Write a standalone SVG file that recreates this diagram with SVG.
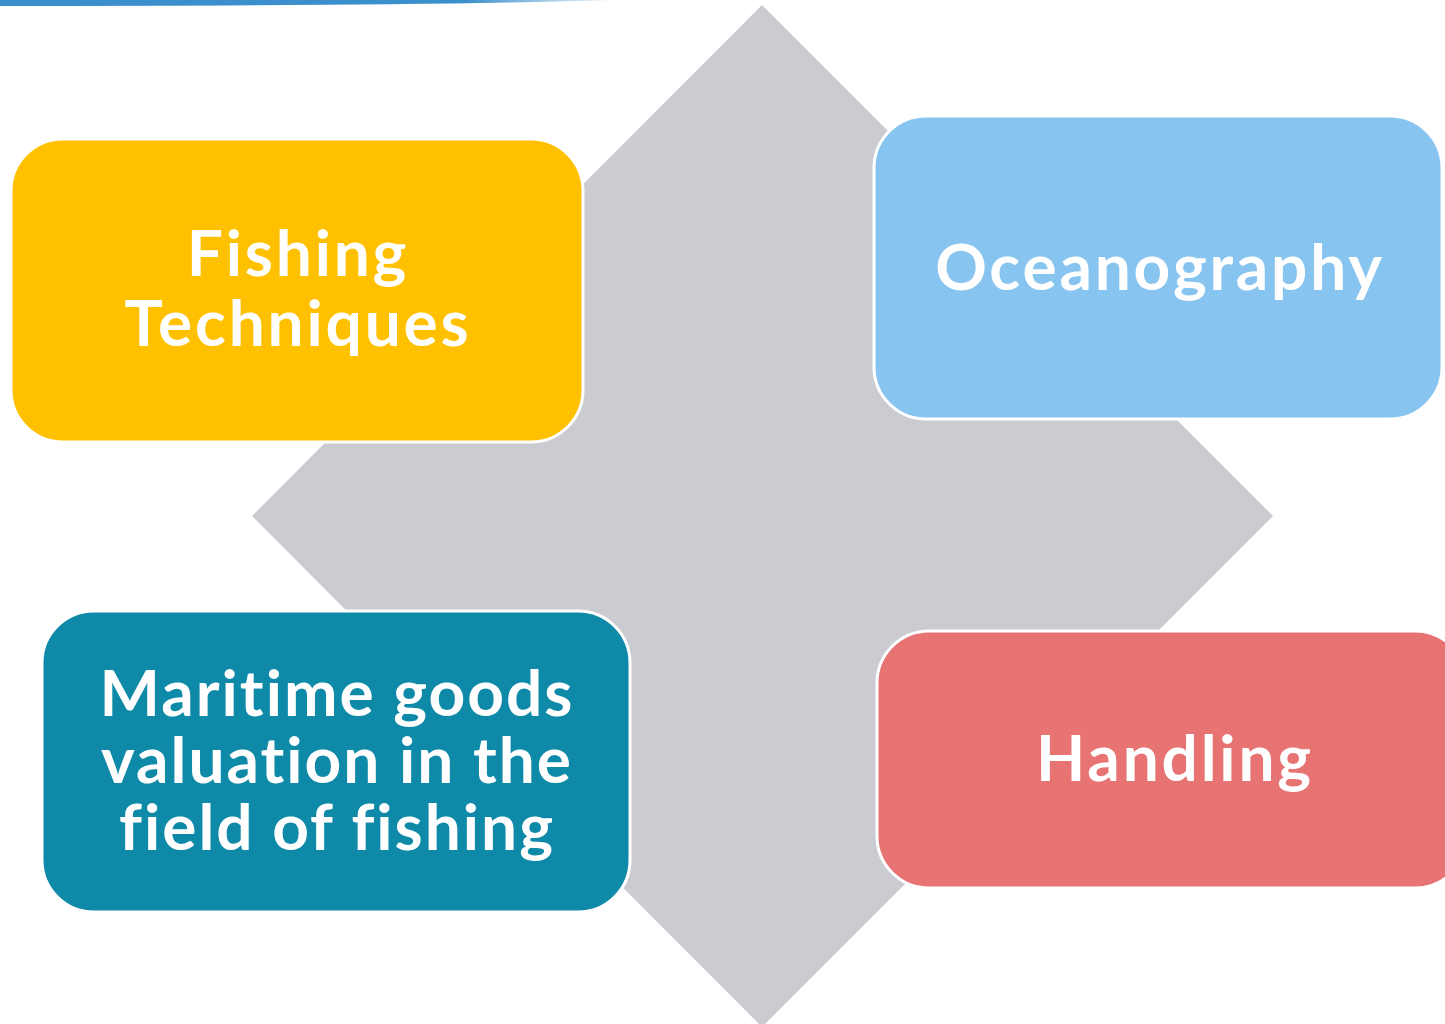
<svg xmlns="http://www.w3.org/2000/svg" width="1445" height="1024" viewBox="0 0 1445 1024">
  <defs>
    <linearGradient id="topline" x1="0" y1="0" x2="1" y2="0">
      <stop offset="0" stop-color="#3a8fcc"/>
      <stop offset="0.75" stop-color="#3a8fcc"/>
      <stop offset="1" stop-color="#3a8fcc" stop-opacity="0"/>
    </linearGradient>
  </defs>
  <style>
    .box { stroke: #ffffff; stroke-width: 3; }
    .lbl { font-family: Lato, "Open Sans", "Liberation Sans", sans-serif; font-weight: 700; font-size: 64px; fill: #ffffff; text-anchor: middle; letter-spacing: 2.8px; font-variant-ligatures: none; }
    .tight { letter-spacing: 2px; }
  </style>
  <rect width="1445" height="1024" fill="#ffffff"/>
  <path d="M0 0 H620 Q400 6 0 6 Z" fill="url(#topline)"/>
  <g id="diamond">
    <polygon points="762,5 1273,516 762,1027 252,516" fill="#cbccd1"/>
  </g>
  <g id="connectors"></g>
  <g id="node-fishing">
    <rect class="box" x="11" y="139" width="572" height="303" rx="52" fill="#ffc000"/>
    <text class="lbl" x="298" y="276">Fishing</text>
    <text class="lbl" x="298" y="346">Techniques</text>
  </g>
  <g id="node-oceanography">
    <rect class="box" x="874" y="116" width="568" height="303" rx="52" fill="#88c4f0"/>
    <text class="lbl" x="1160" y="290">Oceanography</text>
  </g>
  <g id="node-maritime">
    <rect class="box" x="42" y="611" width="588" height="301" rx="52" fill="#0e8aa8"/>
    <text class="lbl tight" x="337" y="716">Maritime goods</text>
    <text class="lbl tight" x="337" y="783">valuation in the</text>
    <text class="lbl tight" x="337" y="850">field of fishing</text>
  </g>
  <g id="node-handling">
    <rect class="box" x="877" y="631" width="590" height="257" rx="52" fill="#e77373"/>
    <text class="lbl" x="1175" y="781">Handling</text>
  </g>
</svg>
